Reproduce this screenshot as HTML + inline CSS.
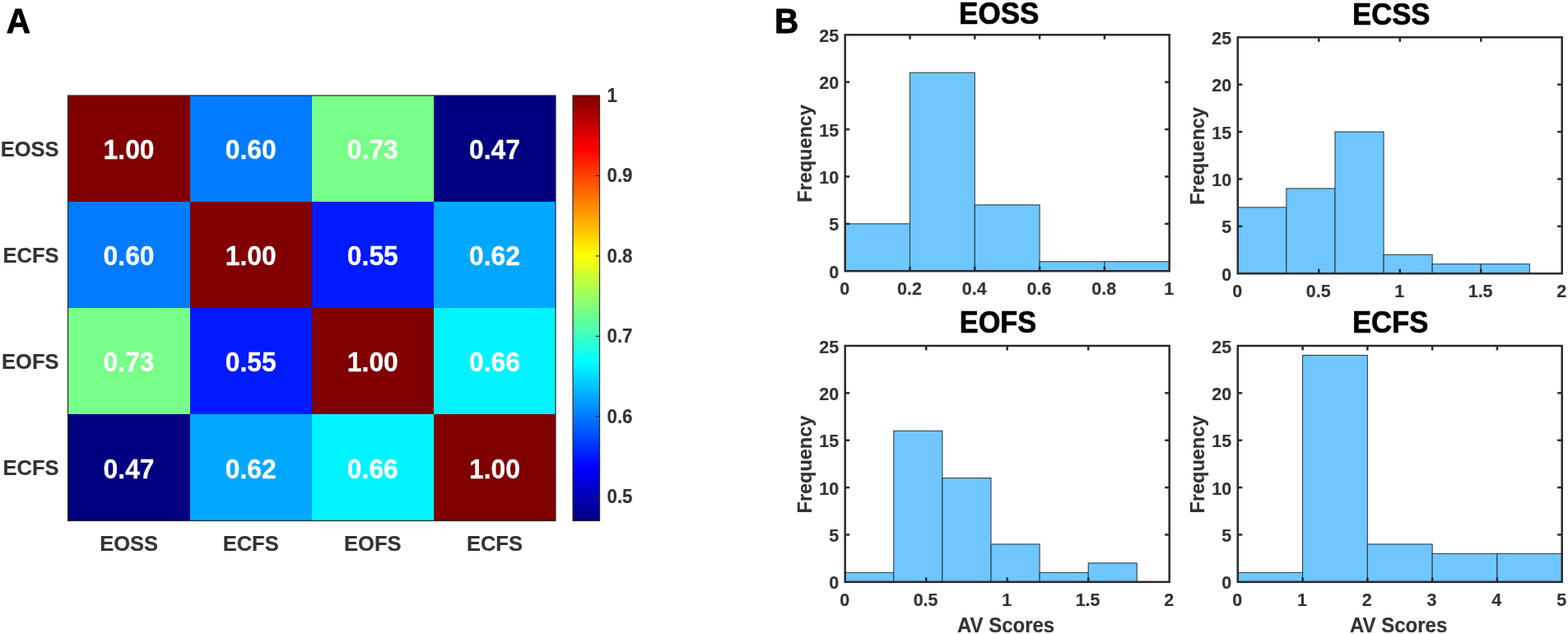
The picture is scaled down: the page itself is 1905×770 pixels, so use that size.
<!DOCTYPE html>
<html lang="en"><head><meta charset="utf-8"><title>Figure</title>
<style>html,body{margin:0;padding:0;background:#fff}body{width:1905px;height:770px;overflow:hidden}svg{display:block}</style>
</head><body>
<svg width="1905" height="770" viewBox="0 0 1905 770" font-family='"Liberation Sans", Arial, Helvetica, sans-serif' font-weight="bold">
<rect width="1905" height="770" fill="#fff"/>
<text transform="translate(7.80,40.20) scale(1,1.065)" font-size="40.5" fill="#000" stroke="#000" stroke-width="0.81" stroke-linejoin="round">A</text>
<text transform="translate(941.00,40.00) scale(1,1.065)" font-size="40.5" fill="#000" stroke="#000" stroke-width="0.81" stroke-linejoin="round">B</text>
<rect x="82.5" y="116" width="148.5" height="129" fill="#800000"/>
<rect x="231" y="116" width="148" height="129" fill="#007bff"/>
<rect x="379" y="116" width="148" height="129" fill="#76ff89"/>
<rect x="527" y="116" width="148" height="129" fill="#000080"/>
<rect x="82.5" y="245" width="148.5" height="129" fill="#007bff"/>
<rect x="231" y="245" width="148" height="129" fill="#800000"/>
<rect x="379" y="245" width="148" height="129" fill="#001aff"/>
<rect x="527" y="245" width="148" height="129" fill="#00a8ff"/>
<rect x="82.5" y="374" width="148.5" height="129" fill="#76ff89"/>
<rect x="231" y="374" width="148" height="129" fill="#001aff"/>
<rect x="379" y="374" width="148" height="129" fill="#800000"/>
<rect x="527" y="374" width="148" height="129" fill="#00f4ff"/>
<rect x="82.5" y="503" width="148.5" height="129.5" fill="#000080"/>
<rect x="231" y="503" width="148" height="129.5" fill="#00a8ff"/>
<rect x="379" y="503" width="148" height="129.5" fill="#00f4ff"/>
<rect x="527" y="503" width="148" height="129.5" fill="#800000"/>
<text transform="translate(156.56,193.16) scale(1,1.045)" font-size="31.8" fill="#fff" text-anchor="middle" stroke="#fff" stroke-width="0.25" stroke-linejoin="round">1.00</text>
<text transform="translate(304.69,193.16) scale(1,1.045)" font-size="31.8" fill="#fff" text-anchor="middle" stroke="#fff" stroke-width="0.25" stroke-linejoin="round">0.60</text>
<text transform="translate(452.81,193.16) scale(1,1.045)" font-size="31.8" fill="#fff" text-anchor="middle" stroke="#fff" stroke-width="0.25" stroke-linejoin="round">0.73</text>
<text transform="translate(600.94,193.16) scale(1,1.045)" font-size="31.8" fill="#fff" text-anchor="middle" stroke="#fff" stroke-width="0.25" stroke-linejoin="round">0.47</text>
<text transform="translate(156.56,322.29) scale(1,1.045)" font-size="31.8" fill="#fff" text-anchor="middle" stroke="#fff" stroke-width="0.25" stroke-linejoin="round">0.60</text>
<text transform="translate(304.69,322.29) scale(1,1.045)" font-size="31.8" fill="#fff" text-anchor="middle" stroke="#fff" stroke-width="0.25" stroke-linejoin="round">1.00</text>
<text transform="translate(452.81,322.29) scale(1,1.045)" font-size="31.8" fill="#fff" text-anchor="middle" stroke="#fff" stroke-width="0.25" stroke-linejoin="round">0.55</text>
<text transform="translate(600.94,322.29) scale(1,1.045)" font-size="31.8" fill="#fff" text-anchor="middle" stroke="#fff" stroke-width="0.25" stroke-linejoin="round">0.62</text>
<text transform="translate(156.56,451.41) scale(1,1.045)" font-size="31.8" fill="#fff" text-anchor="middle" stroke="#fff" stroke-width="0.25" stroke-linejoin="round">0.73</text>
<text transform="translate(304.69,451.41) scale(1,1.045)" font-size="31.8" fill="#fff" text-anchor="middle" stroke="#fff" stroke-width="0.25" stroke-linejoin="round">0.55</text>
<text transform="translate(452.81,451.41) scale(1,1.045)" font-size="31.8" fill="#fff" text-anchor="middle" stroke="#fff" stroke-width="0.25" stroke-linejoin="round">1.00</text>
<text transform="translate(600.94,451.41) scale(1,1.045)" font-size="31.8" fill="#fff" text-anchor="middle" stroke="#fff" stroke-width="0.25" stroke-linejoin="round">0.66</text>
<text transform="translate(156.56,580.54) scale(1,1.045)" font-size="31.8" fill="#fff" text-anchor="middle" stroke="#fff" stroke-width="0.25" stroke-linejoin="round">0.47</text>
<text transform="translate(304.69,580.54) scale(1,1.045)" font-size="31.8" fill="#fff" text-anchor="middle" stroke="#fff" stroke-width="0.25" stroke-linejoin="round">0.62</text>
<text transform="translate(452.81,580.54) scale(1,1.045)" font-size="31.8" fill="#fff" text-anchor="middle" stroke="#fff" stroke-width="0.25" stroke-linejoin="round">0.66</text>
<text transform="translate(600.94,580.54) scale(1,1.045)" font-size="31.8" fill="#fff" text-anchor="middle" stroke="#fff" stroke-width="0.25" stroke-linejoin="round">1.00</text>
<rect x="82.5" y="116" width="592.5" height="516.5" fill="none" stroke="#2a2a2a" stroke-width="1.2"/>
<text transform="translate(71.50,189.76) scale(1,1.045)" font-size="25.5" fill="#333333" text-anchor="end" stroke="#333333" stroke-width="0.20" stroke-linejoin="round">EOSS</text>
<text transform="translate(71.50,318.89) scale(1,1.045)" font-size="25.5" fill="#333333" text-anchor="end" stroke="#333333" stroke-width="0.20" stroke-linejoin="round">ECFS</text>
<text transform="translate(71.50,448.01) scale(1,1.045)" font-size="25.5" fill="#333333" text-anchor="end" stroke="#333333" stroke-width="0.20" stroke-linejoin="round">EOFS</text>
<text transform="translate(71.50,577.14) scale(1,1.045)" font-size="25.5" fill="#333333" text-anchor="end" stroke="#333333" stroke-width="0.20" stroke-linejoin="round">ECFS</text>
<text transform="translate(156.56,669.20) scale(1,1.045)" font-size="25.5" fill="#333333" text-anchor="middle" stroke="#333333" stroke-width="0.20" stroke-linejoin="round">EOSS</text>
<text transform="translate(304.69,669.20) scale(1,1.045)" font-size="25.5" fill="#333333" text-anchor="middle" stroke="#333333" stroke-width="0.20" stroke-linejoin="round">ECFS</text>
<text transform="translate(452.81,669.20) scale(1,1.045)" font-size="25.5" fill="#333333" text-anchor="middle" stroke="#333333" stroke-width="0.20" stroke-linejoin="round">EOFS</text>
<text transform="translate(600.94,669.20) scale(1,1.045)" font-size="25.5" fill="#333333" text-anchor="middle" stroke="#333333" stroke-width="0.20" stroke-linejoin="round">ECFS</text>
<defs><linearGradient id="jet" x1="0" y1="0" x2="0" y2="1"><stop offset="0.0000" stop-color="#800000"/><stop offset="0.0156" stop-color="#8f0000"/><stop offset="0.0312" stop-color="#9f0000"/><stop offset="0.0469" stop-color="#af0000"/><stop offset="0.0625" stop-color="#bf0000"/><stop offset="0.0781" stop-color="#cf0000"/><stop offset="0.0938" stop-color="#df0000"/><stop offset="0.1094" stop-color="#ef0000"/><stop offset="0.1250" stop-color="#ff0000"/><stop offset="0.1406" stop-color="#ff1000"/><stop offset="0.1562" stop-color="#ff2000"/><stop offset="0.1719" stop-color="#ff3000"/><stop offset="0.1875" stop-color="#ff4000"/><stop offset="0.2031" stop-color="#ff5000"/><stop offset="0.2188" stop-color="#ff6000"/><stop offset="0.2344" stop-color="#ff7000"/><stop offset="0.2500" stop-color="#ff8000"/><stop offset="0.2656" stop-color="#ff8f00"/><stop offset="0.2812" stop-color="#ff9f00"/><stop offset="0.2969" stop-color="#ffaf00"/><stop offset="0.3125" stop-color="#ffbf00"/><stop offset="0.3281" stop-color="#ffcf00"/><stop offset="0.3438" stop-color="#ffdf00"/><stop offset="0.3594" stop-color="#ffef00"/><stop offset="0.3750" stop-color="#ffff00"/><stop offset="0.3906" stop-color="#efff10"/><stop offset="0.4062" stop-color="#dfff20"/><stop offset="0.4219" stop-color="#cfff30"/><stop offset="0.4375" stop-color="#bfff40"/><stop offset="0.4531" stop-color="#afff50"/><stop offset="0.4688" stop-color="#9fff60"/><stop offset="0.4844" stop-color="#8fff70"/><stop offset="0.5000" stop-color="#80ff80"/><stop offset="0.5156" stop-color="#70ff8f"/><stop offset="0.5312" stop-color="#60ff9f"/><stop offset="0.5469" stop-color="#50ffaf"/><stop offset="0.5625" stop-color="#40ffbf"/><stop offset="0.5781" stop-color="#30ffcf"/><stop offset="0.5938" stop-color="#20ffdf"/><stop offset="0.6094" stop-color="#10ffef"/><stop offset="0.6250" stop-color="#00ffff"/><stop offset="0.6406" stop-color="#00efff"/><stop offset="0.6562" stop-color="#00dfff"/><stop offset="0.6719" stop-color="#00cfff"/><stop offset="0.6875" stop-color="#00bfff"/><stop offset="0.7031" stop-color="#00afff"/><stop offset="0.7188" stop-color="#009fff"/><stop offset="0.7344" stop-color="#008fff"/><stop offset="0.7500" stop-color="#0080ff"/><stop offset="0.7656" stop-color="#0070ff"/><stop offset="0.7812" stop-color="#0060ff"/><stop offset="0.7969" stop-color="#0050ff"/><stop offset="0.8125" stop-color="#0040ff"/><stop offset="0.8281" stop-color="#0030ff"/><stop offset="0.8438" stop-color="#0020ff"/><stop offset="0.8594" stop-color="#0010ff"/><stop offset="0.8750" stop-color="#0000ff"/><stop offset="0.8906" stop-color="#0000ef"/><stop offset="0.9062" stop-color="#0000df"/><stop offset="0.9219" stop-color="#0000cf"/><stop offset="0.9375" stop-color="#0000bf"/><stop offset="0.9531" stop-color="#0000af"/><stop offset="0.9688" stop-color="#00009f"/><stop offset="0.9844" stop-color="#00008f"/><stop offset="1.0000" stop-color="#000080"/></linearGradient></defs>
<rect x="696" y="116" width="32.5" height="516.5" fill="url(#jet)" stroke="#2a2a2a" stroke-width="1.2"/>
<text transform="translate(737.50,124.00) scale(1,1.045)" font-size="22.3" fill="#333333" stroke="#333333" stroke-width="0.18" stroke-linejoin="round">1</text>
<line x1="723.5" x2="728.5" y1="213.45" y2="213.45" stroke="#2a2a2a" stroke-width="1.2"/>
<text transform="translate(737.50,221.45) scale(1,1.045)" font-size="22.3" fill="#333333" stroke="#333333" stroke-width="0.18" stroke-linejoin="round">0.9</text>
<line x1="723.5" x2="728.5" y1="310.91" y2="310.91" stroke="#2a2a2a" stroke-width="1.2"/>
<text transform="translate(737.50,318.91) scale(1,1.045)" font-size="22.3" fill="#333333" stroke="#333333" stroke-width="0.18" stroke-linejoin="round">0.8</text>
<line x1="723.5" x2="728.5" y1="408.36" y2="408.36" stroke="#2a2a2a" stroke-width="1.2"/>
<text transform="translate(737.50,416.36) scale(1,1.045)" font-size="22.3" fill="#333333" stroke="#333333" stroke-width="0.18" stroke-linejoin="round">0.7</text>
<line x1="723.5" x2="728.5" y1="505.81" y2="505.81" stroke="#2a2a2a" stroke-width="1.2"/>
<text transform="translate(737.50,513.81) scale(1,1.045)" font-size="22.3" fill="#333333" stroke="#333333" stroke-width="0.18" stroke-linejoin="round">0.6</text>
<line x1="723.5" x2="728.5" y1="603.26" y2="603.26" stroke="#2a2a2a" stroke-width="1.2"/>
<text transform="translate(737.50,611.26) scale(1,1.045)" font-size="22.3" fill="#333333" stroke="#333333" stroke-width="0.18" stroke-linejoin="round">0.5</text>
<rect x="1026.70" y="271.82" width="78.80" height="57.38" fill="#70c6ff" stroke="#27323a" stroke-width="1"/>
<rect x="1105.50" y="88.20" width="78.80" height="241.00" fill="#70c6ff" stroke="#27323a" stroke-width="1"/>
<rect x="1184.30" y="248.87" width="78.80" height="80.33" fill="#70c6ff" stroke="#27323a" stroke-width="1"/>
<rect x="1263.10" y="317.72" width="78.80" height="11.48" fill="#70c6ff" stroke="#27323a" stroke-width="1"/>
<rect x="1341.90" y="317.72" width="78.80" height="11.48" fill="#70c6ff" stroke="#27323a" stroke-width="1"/>
<text transform="translate(1026.10,357.50) scale(1,1.045)" font-size="21.5" fill="#333333" text-anchor="middle" stroke="#333333" stroke-width="0.17" stroke-linejoin="round">0</text>
<line x1="1105.50" x2="1105.50" y1="329.2" y2="323.7" stroke="#2a2a2a" stroke-width="2.5"/>
<line x1="1105.50" x2="1105.50" y1="42.3" y2="47.8" stroke="#2a2a2a" stroke-width="2.5"/>
<text transform="translate(1104.90,357.50) scale(1,1.045)" font-size="21.5" fill="#333333" text-anchor="middle" stroke="#333333" stroke-width="0.17" stroke-linejoin="round">0.2</text>
<line x1="1184.30" x2="1184.30" y1="329.2" y2="323.7" stroke="#2a2a2a" stroke-width="2.5"/>
<line x1="1184.30" x2="1184.30" y1="42.3" y2="47.8" stroke="#2a2a2a" stroke-width="2.5"/>
<text transform="translate(1183.70,357.50) scale(1,1.045)" font-size="21.5" fill="#333333" text-anchor="middle" stroke="#333333" stroke-width="0.17" stroke-linejoin="round">0.4</text>
<line x1="1263.10" x2="1263.10" y1="329.2" y2="323.7" stroke="#2a2a2a" stroke-width="2.5"/>
<line x1="1263.10" x2="1263.10" y1="42.3" y2="47.8" stroke="#2a2a2a" stroke-width="2.5"/>
<text transform="translate(1262.50,357.50) scale(1,1.045)" font-size="21.5" fill="#333333" text-anchor="middle" stroke="#333333" stroke-width="0.17" stroke-linejoin="round">0.6</text>
<line x1="1341.90" x2="1341.90" y1="329.2" y2="323.7" stroke="#2a2a2a" stroke-width="2.5"/>
<line x1="1341.90" x2="1341.90" y1="42.3" y2="47.8" stroke="#2a2a2a" stroke-width="2.5"/>
<text transform="translate(1341.30,357.50) scale(1,1.045)" font-size="21.5" fill="#333333" text-anchor="middle" stroke="#333333" stroke-width="0.17" stroke-linejoin="round">0.8</text>
<text transform="translate(1420.10,357.50) scale(1,1.045)" font-size="21.5" fill="#333333" text-anchor="middle" stroke="#333333" stroke-width="0.17" stroke-linejoin="round">1</text>
<text transform="translate(1019.10,337.70) scale(1,1.045)" font-size="21.5" fill="#333333" text-anchor="end" stroke="#333333" stroke-width="0.17" stroke-linejoin="round">0</text>
<line x1="1026.7" x2="1032.2" y1="271.82" y2="271.82" stroke="#2a2a2a" stroke-width="2.5"/>
<line x1="1420.7" x2="1415.2" y1="271.82" y2="271.82" stroke="#2a2a2a" stroke-width="2.5"/>
<text transform="translate(1019.10,280.32) scale(1,1.045)" font-size="21.5" fill="#333333" text-anchor="end" stroke="#333333" stroke-width="0.17" stroke-linejoin="round">5</text>
<line x1="1026.7" x2="1032.2" y1="214.44" y2="214.44" stroke="#2a2a2a" stroke-width="2.5"/>
<line x1="1420.7" x2="1415.2" y1="214.44" y2="214.44" stroke="#2a2a2a" stroke-width="2.5"/>
<text transform="translate(1019.10,222.94) scale(1,1.045)" font-size="21.5" fill="#333333" text-anchor="end" stroke="#333333" stroke-width="0.17" stroke-linejoin="round">10</text>
<line x1="1026.7" x2="1032.2" y1="157.06" y2="157.06" stroke="#2a2a2a" stroke-width="2.5"/>
<line x1="1420.7" x2="1415.2" y1="157.06" y2="157.06" stroke="#2a2a2a" stroke-width="2.5"/>
<text transform="translate(1019.10,165.56) scale(1,1.045)" font-size="21.5" fill="#333333" text-anchor="end" stroke="#333333" stroke-width="0.17" stroke-linejoin="round">15</text>
<line x1="1026.7" x2="1032.2" y1="99.68" y2="99.68" stroke="#2a2a2a" stroke-width="2.5"/>
<line x1="1420.7" x2="1415.2" y1="99.68" y2="99.68" stroke="#2a2a2a" stroke-width="2.5"/>
<text transform="translate(1019.10,108.18) scale(1,1.045)" font-size="21.5" fill="#333333" text-anchor="end" stroke="#333333" stroke-width="0.17" stroke-linejoin="round">20</text>
<text transform="translate(1019.10,50.80) scale(1,1.045)" font-size="21.5" fill="#333333" text-anchor="end" stroke="#333333" stroke-width="0.17" stroke-linejoin="round">25</text>
<rect x="1026.7" y="42.3" width="394.00" height="286.90" fill="none" stroke="#2a2a2a" stroke-width="2.5"/>
<text transform="translate(1213.70,29.30) scale(1,1.05)" font-size="35" fill="#000" text-anchor="middle" stroke="#000" stroke-width="0.70" stroke-linejoin="round">EOSS</text>
<text transform="translate(986.10,186.45) rotate(-90) scale(1,1.045)" font-size="23.5" fill="#333333" text-anchor="middle" stroke="#333333" stroke-width="0.19" stroke-linejoin="round">Frequency</text>
<rect x="1503.80" y="251.87" width="59.09" height="80.33" fill="#70c6ff" stroke="#27323a" stroke-width="1"/>
<rect x="1562.88" y="228.92" width="59.09" height="103.28" fill="#70c6ff" stroke="#27323a" stroke-width="1"/>
<rect x="1621.97" y="160.06" width="59.09" height="172.14" fill="#70c6ff" stroke="#27323a" stroke-width="1"/>
<rect x="1681.06" y="309.25" width="59.09" height="22.95" fill="#70c6ff" stroke="#27323a" stroke-width="1"/>
<rect x="1740.14" y="320.72" width="59.09" height="11.48" fill="#70c6ff" stroke="#27323a" stroke-width="1"/>
<rect x="1799.22" y="320.72" width="59.09" height="11.48" fill="#70c6ff" stroke="#27323a" stroke-width="1"/>
<text transform="translate(1503.20,360.60) scale(1,1.045)" font-size="21.5" fill="#333333" text-anchor="middle" stroke="#333333" stroke-width="0.17" stroke-linejoin="round">0</text>
<line x1="1602.28" x2="1602.28" y1="332.2" y2="326.7" stroke="#2a2a2a" stroke-width="2.5"/>
<line x1="1602.28" x2="1602.28" y1="45.3" y2="50.8" stroke="#2a2a2a" stroke-width="2.5"/>
<text transform="translate(1601.68,360.60) scale(1,1.045)" font-size="21.5" fill="#333333" text-anchor="middle" stroke="#333333" stroke-width="0.17" stroke-linejoin="round">0.5</text>
<line x1="1700.75" x2="1700.75" y1="332.2" y2="326.7" stroke="#2a2a2a" stroke-width="2.5"/>
<line x1="1700.75" x2="1700.75" y1="45.3" y2="50.8" stroke="#2a2a2a" stroke-width="2.5"/>
<text transform="translate(1700.15,360.60) scale(1,1.045)" font-size="21.5" fill="#333333" text-anchor="middle" stroke="#333333" stroke-width="0.17" stroke-linejoin="round">1</text>
<line x1="1799.22" x2="1799.22" y1="332.2" y2="326.7" stroke="#2a2a2a" stroke-width="2.5"/>
<line x1="1799.22" x2="1799.22" y1="45.3" y2="50.8" stroke="#2a2a2a" stroke-width="2.5"/>
<text transform="translate(1798.62,360.60) scale(1,1.045)" font-size="21.5" fill="#333333" text-anchor="middle" stroke="#333333" stroke-width="0.17" stroke-linejoin="round">1.5</text>
<text transform="translate(1897.10,360.60) scale(1,1.045)" font-size="21.5" fill="#333333" text-anchor="middle" stroke="#333333" stroke-width="0.17" stroke-linejoin="round">2</text>
<text transform="translate(1496.20,340.70) scale(1,1.045)" font-size="21.5" fill="#333333" text-anchor="end" stroke="#333333" stroke-width="0.17" stroke-linejoin="round">0</text>
<line x1="1503.8" x2="1509.3" y1="274.82" y2="274.82" stroke="#2a2a2a" stroke-width="2.5"/>
<line x1="1897.7" x2="1892.2" y1="274.82" y2="274.82" stroke="#2a2a2a" stroke-width="2.5"/>
<text transform="translate(1496.20,283.32) scale(1,1.045)" font-size="21.5" fill="#333333" text-anchor="end" stroke="#333333" stroke-width="0.17" stroke-linejoin="round">5</text>
<line x1="1503.8" x2="1509.3" y1="217.44" y2="217.44" stroke="#2a2a2a" stroke-width="2.5"/>
<line x1="1897.7" x2="1892.2" y1="217.44" y2="217.44" stroke="#2a2a2a" stroke-width="2.5"/>
<text transform="translate(1496.20,225.94) scale(1,1.045)" font-size="21.5" fill="#333333" text-anchor="end" stroke="#333333" stroke-width="0.17" stroke-linejoin="round">10</text>
<line x1="1503.8" x2="1509.3" y1="160.06" y2="160.06" stroke="#2a2a2a" stroke-width="2.5"/>
<line x1="1897.7" x2="1892.2" y1="160.06" y2="160.06" stroke="#2a2a2a" stroke-width="2.5"/>
<text transform="translate(1496.20,168.56) scale(1,1.045)" font-size="21.5" fill="#333333" text-anchor="end" stroke="#333333" stroke-width="0.17" stroke-linejoin="round">15</text>
<line x1="1503.8" x2="1509.3" y1="102.68" y2="102.68" stroke="#2a2a2a" stroke-width="2.5"/>
<line x1="1897.7" x2="1892.2" y1="102.68" y2="102.68" stroke="#2a2a2a" stroke-width="2.5"/>
<text transform="translate(1496.20,111.18) scale(1,1.045)" font-size="21.5" fill="#333333" text-anchor="end" stroke="#333333" stroke-width="0.17" stroke-linejoin="round">20</text>
<text transform="translate(1496.20,53.80) scale(1,1.045)" font-size="21.5" fill="#333333" text-anchor="end" stroke="#333333" stroke-width="0.17" stroke-linejoin="round">25</text>
<rect x="1503.8" y="45.3" width="393.90" height="286.90" fill="none" stroke="#2a2a2a" stroke-width="2.5"/>
<text transform="translate(1690.25,30.30) scale(1,1.05)" font-size="34.7" fill="#000" text-anchor="middle" stroke="#000" stroke-width="0.69" stroke-linejoin="round">ECSS</text>
<text transform="translate(1462.50,189.45) rotate(-90) scale(1,1.045)" font-size="23.5" fill="#333333" text-anchor="middle" stroke="#333333" stroke-width="0.19" stroke-linejoin="round">Frequency</text>
<rect x="1026.70" y="695.33" width="59.10" height="11.47" fill="#70c6ff" stroke="#27323a" stroke-width="1"/>
<rect x="1085.80" y="523.25" width="59.10" height="183.55" fill="#70c6ff" stroke="#27323a" stroke-width="1"/>
<rect x="1144.90" y="580.61" width="59.10" height="126.19" fill="#70c6ff" stroke="#27323a" stroke-width="1"/>
<rect x="1204.00" y="660.91" width="59.10" height="45.89" fill="#70c6ff" stroke="#27323a" stroke-width="1"/>
<rect x="1263.10" y="695.33" width="59.10" height="11.47" fill="#70c6ff" stroke="#27323a" stroke-width="1"/>
<rect x="1322.20" y="683.86" width="59.10" height="22.94" fill="#70c6ff" stroke="#27323a" stroke-width="1"/>
<text transform="translate(1026.10,736.10) scale(1,1.045)" font-size="21.5" fill="#333333" text-anchor="middle" stroke="#333333" stroke-width="0.17" stroke-linejoin="round">0</text>
<line x1="1125.20" x2="1125.20" y1="706.8" y2="701.3" stroke="#2a2a2a" stroke-width="2.5"/>
<line x1="1125.20" x2="1125.20" y1="420" y2="425.5" stroke="#2a2a2a" stroke-width="2.5"/>
<text transform="translate(1124.60,736.10) scale(1,1.045)" font-size="21.5" fill="#333333" text-anchor="middle" stroke="#333333" stroke-width="0.17" stroke-linejoin="round">0.5</text>
<line x1="1223.70" x2="1223.70" y1="706.8" y2="701.3" stroke="#2a2a2a" stroke-width="2.5"/>
<line x1="1223.70" x2="1223.70" y1="420" y2="425.5" stroke="#2a2a2a" stroke-width="2.5"/>
<text transform="translate(1223.10,736.10) scale(1,1.045)" font-size="21.5" fill="#333333" text-anchor="middle" stroke="#333333" stroke-width="0.17" stroke-linejoin="round">1</text>
<line x1="1322.20" x2="1322.20" y1="706.8" y2="701.3" stroke="#2a2a2a" stroke-width="2.5"/>
<line x1="1322.20" x2="1322.20" y1="420" y2="425.5" stroke="#2a2a2a" stroke-width="2.5"/>
<text transform="translate(1321.60,736.10) scale(1,1.045)" font-size="21.5" fill="#333333" text-anchor="middle" stroke="#333333" stroke-width="0.17" stroke-linejoin="round">1.5</text>
<text transform="translate(1420.10,736.10) scale(1,1.045)" font-size="21.5" fill="#333333" text-anchor="middle" stroke="#333333" stroke-width="0.17" stroke-linejoin="round">2</text>
<text transform="translate(1019.10,715.30) scale(1,1.045)" font-size="21.5" fill="#333333" text-anchor="end" stroke="#333333" stroke-width="0.17" stroke-linejoin="round">0</text>
<line x1="1026.7" x2="1032.2" y1="649.44" y2="649.44" stroke="#2a2a2a" stroke-width="2.5"/>
<line x1="1420.7" x2="1415.2" y1="649.44" y2="649.44" stroke="#2a2a2a" stroke-width="2.5"/>
<text transform="translate(1019.10,657.94) scale(1,1.045)" font-size="21.5" fill="#333333" text-anchor="end" stroke="#333333" stroke-width="0.17" stroke-linejoin="round">5</text>
<line x1="1026.7" x2="1032.2" y1="592.08" y2="592.08" stroke="#2a2a2a" stroke-width="2.5"/>
<line x1="1420.7" x2="1415.2" y1="592.08" y2="592.08" stroke="#2a2a2a" stroke-width="2.5"/>
<text transform="translate(1019.10,600.58) scale(1,1.045)" font-size="21.5" fill="#333333" text-anchor="end" stroke="#333333" stroke-width="0.17" stroke-linejoin="round">10</text>
<line x1="1026.7" x2="1032.2" y1="534.72" y2="534.72" stroke="#2a2a2a" stroke-width="2.5"/>
<line x1="1420.7" x2="1415.2" y1="534.72" y2="534.72" stroke="#2a2a2a" stroke-width="2.5"/>
<text transform="translate(1019.10,543.22) scale(1,1.045)" font-size="21.5" fill="#333333" text-anchor="end" stroke="#333333" stroke-width="0.17" stroke-linejoin="round">15</text>
<line x1="1026.7" x2="1032.2" y1="477.36" y2="477.36" stroke="#2a2a2a" stroke-width="2.5"/>
<line x1="1420.7" x2="1415.2" y1="477.36" y2="477.36" stroke="#2a2a2a" stroke-width="2.5"/>
<text transform="translate(1019.10,485.86) scale(1,1.045)" font-size="21.5" fill="#333333" text-anchor="end" stroke="#333333" stroke-width="0.17" stroke-linejoin="round">20</text>
<text transform="translate(1019.10,428.50) scale(1,1.045)" font-size="21.5" fill="#333333" text-anchor="end" stroke="#333333" stroke-width="0.17" stroke-linejoin="round">25</text>
<rect x="1026.7" y="420" width="394.00" height="286.80" fill="none" stroke="#2a2a2a" stroke-width="2.5"/>
<text transform="translate(1212.50,404.30) scale(1,1.05)" font-size="34.3" fill="#000" text-anchor="middle" stroke="#000" stroke-width="0.69" stroke-linejoin="round">EOFS</text>
<text transform="translate(986.10,564.10) rotate(-90) scale(1,1.045)" font-size="23.5" fill="#333333" text-anchor="middle" stroke="#333333" stroke-width="0.19" stroke-linejoin="round">Frequency</text>
<text transform="translate(1222.10,767.50) scale(1,1.045)" font-size="24" fill="#333333" text-anchor="middle" stroke="#333333" stroke-width="0.19" stroke-linejoin="round">AV Scores</text>
<rect x="1503.80" y="695.33" width="78.78" height="11.47" fill="#70c6ff" stroke="#27323a" stroke-width="1"/>
<rect x="1582.58" y="431.47" width="78.78" height="275.33" fill="#70c6ff" stroke="#27323a" stroke-width="1"/>
<rect x="1661.36" y="660.91" width="78.78" height="45.89" fill="#70c6ff" stroke="#27323a" stroke-width="1"/>
<rect x="1740.14" y="672.38" width="78.78" height="34.42" fill="#70c6ff" stroke="#27323a" stroke-width="1"/>
<rect x="1818.92" y="672.38" width="78.78" height="34.42" fill="#70c6ff" stroke="#27323a" stroke-width="1"/>
<text transform="translate(1503.20,736.10) scale(1,1.045)" font-size="21.5" fill="#333333" text-anchor="middle" stroke="#333333" stroke-width="0.17" stroke-linejoin="round">0</text>
<line x1="1582.58" x2="1582.58" y1="706.8" y2="701.3" stroke="#2a2a2a" stroke-width="2.5"/>
<line x1="1582.58" x2="1582.58" y1="420" y2="425.5" stroke="#2a2a2a" stroke-width="2.5"/>
<text transform="translate(1581.98,736.10) scale(1,1.045)" font-size="21.5" fill="#333333" text-anchor="middle" stroke="#333333" stroke-width="0.17" stroke-linejoin="round">1</text>
<line x1="1661.36" x2="1661.36" y1="706.8" y2="701.3" stroke="#2a2a2a" stroke-width="2.5"/>
<line x1="1661.36" x2="1661.36" y1="420" y2="425.5" stroke="#2a2a2a" stroke-width="2.5"/>
<text transform="translate(1660.76,736.10) scale(1,1.045)" font-size="21.5" fill="#333333" text-anchor="middle" stroke="#333333" stroke-width="0.17" stroke-linejoin="round">2</text>
<line x1="1740.14" x2="1740.14" y1="706.8" y2="701.3" stroke="#2a2a2a" stroke-width="2.5"/>
<line x1="1740.14" x2="1740.14" y1="420" y2="425.5" stroke="#2a2a2a" stroke-width="2.5"/>
<text transform="translate(1739.54,736.10) scale(1,1.045)" font-size="21.5" fill="#333333" text-anchor="middle" stroke="#333333" stroke-width="0.17" stroke-linejoin="round">3</text>
<line x1="1818.92" x2="1818.92" y1="706.8" y2="701.3" stroke="#2a2a2a" stroke-width="2.5"/>
<line x1="1818.92" x2="1818.92" y1="420" y2="425.5" stroke="#2a2a2a" stroke-width="2.5"/>
<text transform="translate(1818.32,736.10) scale(1,1.045)" font-size="21.5" fill="#333333" text-anchor="middle" stroke="#333333" stroke-width="0.17" stroke-linejoin="round">4</text>
<text transform="translate(1897.10,736.10) scale(1,1.045)" font-size="21.5" fill="#333333" text-anchor="middle" stroke="#333333" stroke-width="0.17" stroke-linejoin="round">5</text>
<text transform="translate(1496.20,715.30) scale(1,1.045)" font-size="21.5" fill="#333333" text-anchor="end" stroke="#333333" stroke-width="0.17" stroke-linejoin="round">0</text>
<line x1="1503.8" x2="1509.3" y1="649.44" y2="649.44" stroke="#2a2a2a" stroke-width="2.5"/>
<line x1="1897.7" x2="1892.2" y1="649.44" y2="649.44" stroke="#2a2a2a" stroke-width="2.5"/>
<text transform="translate(1496.20,657.94) scale(1,1.045)" font-size="21.5" fill="#333333" text-anchor="end" stroke="#333333" stroke-width="0.17" stroke-linejoin="round">5</text>
<line x1="1503.8" x2="1509.3" y1="592.08" y2="592.08" stroke="#2a2a2a" stroke-width="2.5"/>
<line x1="1897.7" x2="1892.2" y1="592.08" y2="592.08" stroke="#2a2a2a" stroke-width="2.5"/>
<text transform="translate(1496.20,600.58) scale(1,1.045)" font-size="21.5" fill="#333333" text-anchor="end" stroke="#333333" stroke-width="0.17" stroke-linejoin="round">10</text>
<line x1="1503.8" x2="1509.3" y1="534.72" y2="534.72" stroke="#2a2a2a" stroke-width="2.5"/>
<line x1="1897.7" x2="1892.2" y1="534.72" y2="534.72" stroke="#2a2a2a" stroke-width="2.5"/>
<text transform="translate(1496.20,543.22) scale(1,1.045)" font-size="21.5" fill="#333333" text-anchor="end" stroke="#333333" stroke-width="0.17" stroke-linejoin="round">15</text>
<line x1="1503.8" x2="1509.3" y1="477.36" y2="477.36" stroke="#2a2a2a" stroke-width="2.5"/>
<line x1="1897.7" x2="1892.2" y1="477.36" y2="477.36" stroke="#2a2a2a" stroke-width="2.5"/>
<text transform="translate(1496.20,485.86) scale(1,1.045)" font-size="21.5" fill="#333333" text-anchor="end" stroke="#333333" stroke-width="0.17" stroke-linejoin="round">20</text>
<text transform="translate(1496.20,428.50) scale(1,1.045)" font-size="21.5" fill="#333333" text-anchor="end" stroke="#333333" stroke-width="0.17" stroke-linejoin="round">25</text>
<rect x="1503.8" y="420" width="393.90" height="286.80" fill="none" stroke="#2a2a2a" stroke-width="2.5"/>
<text transform="translate(1689.15,404.30) scale(1,1.05)" font-size="34.7" fill="#000" text-anchor="middle" stroke="#000" stroke-width="0.69" stroke-linejoin="round">ECFS</text>
<text transform="translate(1462.50,564.10) rotate(-90) scale(1,1.045)" font-size="23.5" fill="#333333" text-anchor="middle" stroke="#333333" stroke-width="0.19" stroke-linejoin="round">Frequency</text>
<text transform="translate(1699.15,767.50) scale(1,1.045)" font-size="24" fill="#333333" text-anchor="middle" stroke="#333333" stroke-width="0.19" stroke-linejoin="round">AV Scores</text>
</svg>
</body></html>
